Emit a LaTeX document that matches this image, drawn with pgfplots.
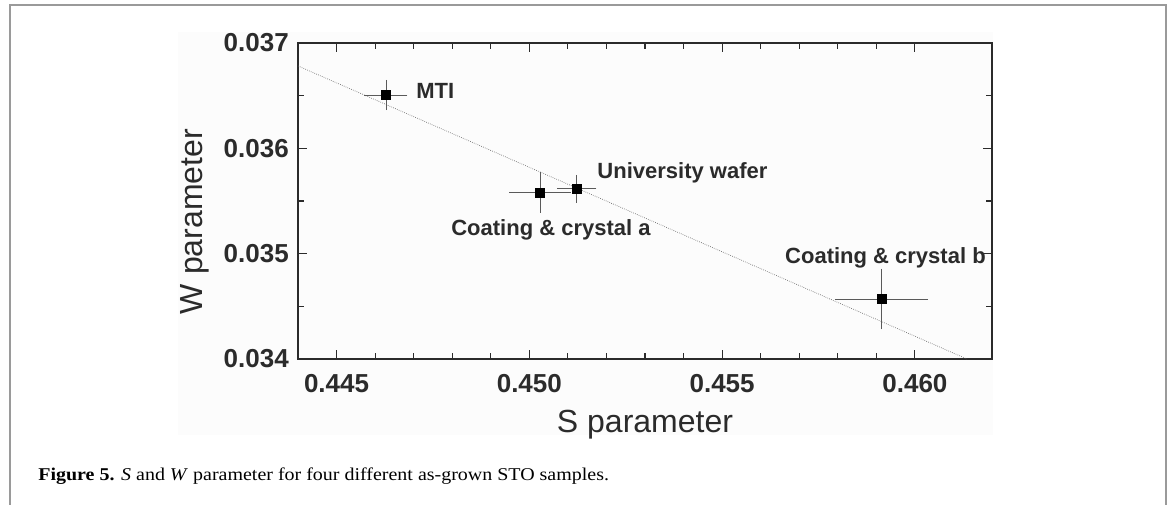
\documentclass[border=0pt]{standalone}
\usepackage{fontspec}
\setmainfont{Liberation Serif}
\newfontfamily\arial{Liberation Sans}
\usepackage{pgfplots}
\pgfplotsset{compat=1.18}
\definecolor{axc}{HTML}{2B2B2B}
\definecolor{errc}{HTML}{5A5A5A}
\definecolor{framec}{HTML}{9A9A9A}
\begin{document}
\begin{tikzpicture}
\useasboundingbox (0,0) rectangle (878.25pt,378pt);
% light background of the figure image
\fill[black!1] (133.5pt,51.75pt) rectangle (745pt,354pt);
% outer frame
\draw[framec, line width=1.3pt] (7.5pt,-2pt) -- (7.5pt,374.25pt) -- (874.5pt,374.25pt) -- (874.5pt,-2pt);
\begin{axis}[
  at={(223.5pt,108.75pt)}, anchor=south west,
  width=520.5pt, height=237pt, scale only axis,
  xmin=0.444, xmax=0.462, ymin=0.034, ymax=0.037,
  xtick={0.445,0.450,0.455,0.460},
  xticklabels={0.445,0.450,0.455,0.460},
  ytick={0.034,0.035,0.036,0.037},
  yticklabels={0.034,0.035,0.036,0.037},
  minor x tick num=4, minor y tick num=1,
  scaled ticks=false,
  tick align=inside, tick pos=both,
  major tick length=6.75pt, minor tick length=4.2pt,
  every tick/.style={axc, line width=0.9pt},
  axis line style={axc, line width=1.1pt},
  ticklabel style={font=\arial\bfseries\fontsize{19.5}{20}\selectfont, text=axc},
  yticklabel style={anchor=east, inner sep=0pt, xshift=-6.75pt},
  xticklabel style={anchor=north, inner sep=0pt, yshift=-11pt},
  xlabel={S parameter}, ylabel={W parameter},
  label style={font=\arial\fontsize{24}{26}\selectfont, text=axc},
  xlabel style={at={(axis description cs:0.5,-0.232)}, anchor=base},
  ylabel style={at={(axis description cs:-0.137,0.435)}, anchor=base},
  clip=false,
]
% linear fit
\addplot[densely dotted, black!60, line width=0.5pt] coordinates {(0.444,0.036782) (0.46135,0.034)};
% data with error bars
\addplot[only marks, mark=square*, mark size=3.4pt, black,
  error bars/.cd, x dir=both, x explicit, y dir=both, y explicit,
  error bar style={errc, line width=0.55pt},
  error mark options={errc, mark size=2.4pt, line width=0.55pt}]
coordinates {
 (0.44628,0.036506) +- (0.000475,0.000114)
 (0.45028,0.035582) +- (0.000714,0.000163)
 (0.45123,0.035617) +- (0.000424,0.000101)
 (0.45913,0.034569) +- (0.00113,0.000258)
};
\begin{scope}[every node/.style={anchor=base west, inner sep=0pt, text=axc, font=\arial\bfseries\fontsize{16.5}{18}\selectfont}]
\node at (axis cs:0.44706,0.036475) {MTI};
\node at (axis cs:0.45176,0.035718) {University wafer};
\node at (axis cs:0.44797,0.035177) {Coating \& crystal a};
\node at (axis cs:0.45663,0.034909) {Coating \& crystal b};
\end{scope}
\end{axis}
\node[anchor=west, inner sep=0pt, xscale=1.11, font=\fontsize{13.5}{15}\selectfont] at (28.5pt,21pt)
  {\textbf{Figure 5.} \textit{S} and \textit{W} parameter for four different as-grown STO samples.};
\end{tikzpicture}
\end{document}
